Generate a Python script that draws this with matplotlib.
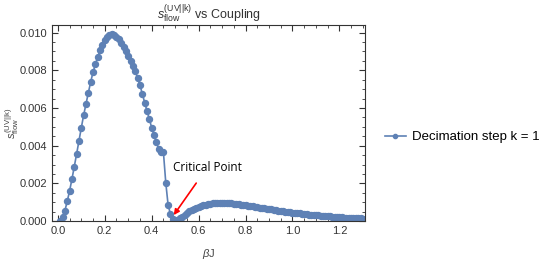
import numpy as np
import matplotlib
matplotlib.use("Agg")
import matplotlib.pyplot as plt
from matplotlib.ticker import MultipleLocator

plt.rcParams['font.family'] = ['Liberation Sans', 'DejaVu Sans']
plt.rcParams['mathtext.fontset'] = 'custom'
plt.rcParams['mathtext.rm'] = 'Liberation Sans'
plt.rcParams['mathtext.it'] = 'Liberation Sans:italic'

# coupling beta*J, step 0.01
beta_j = np.round(np.arange(1, 131) * 0.01, 2)

# s_flow values (first branch up to the critical point)
s_low = [
    0.00000, 0.00020, 0.00055, 0.00105, 0.00160, 0.00222, 0.00288, 0.00356, 0.00427, 0.00495,
    0.00562, 0.00622, 0.00681, 0.00738, 0.00790, 0.00832, 0.00870, 0.00906, 0.00934, 0.00959,
    0.00977, 0.00988, 0.00991, 0.00987, 0.00978, 0.00964, 0.00946, 0.00924, 0.00900, 0.00875,
    0.00849, 0.00824, 0.00794, 0.00759, 0.00720, 0.00676, 0.00629, 0.00585, 0.00543, 0.00496,
    0.00456, 0.00417, 0.00381, 0.00369, 0.00365, 0.00204, 0.00085, 0.00037, 0.00010, 0.00000,
]
# second hump past the critical point
s_high = [
    0.00005, 0.00014, 0.00024, 0.00034, 0.00044, 0.00052, 0.00060, 0.00066, 0.00072, 0.00077,
    0.00081, 0.00085, 0.00088, 0.00091, 0.00093, 0.00095, 0.00096, 0.00097, 0.00098, 0.00098,
    0.00098, 0.00097, 0.00096, 0.00095, 0.00093, 0.00092, 0.00090, 0.00088, 0.00086, 0.00084,
    0.00082, 0.00080, 0.00078, 0.00076, 0.00074, 0.00072, 0.00070, 0.00068, 0.00066, 0.00064,
    0.00062, 0.00060, 0.00058, 0.00056, 0.00054, 0.00052, 0.00050, 0.00049, 0.00047, 0.00045,
    0.00044, 0.00042, 0.00041, 0.00039, 0.00038, 0.00036, 0.00035, 0.00034, 0.00032, 0.00031,
    0.00030, 0.00029, 0.00028, 0.00027, 0.00026, 0.00025, 0.00024, 0.00023, 0.00022, 0.00021,
    0.00020, 0.00019, 0.00018, 0.00018, 0.00017, 0.00016, 0.00015, 0.00015, 0.00014, 0.00013,
]
s_flow = np.array(s_low + s_high)

critical_x, critical_y = 0.494, 0.00032
label_x, label_y = 0.638, 0.00287

blue = '#5e81b5'
gray = '#444444'

fig = plt.figure(figsize=(5.5, 2.69), dpi=100)
ax = fig.add_axes([0.0945, 0.178, 0.5695, 0.729])

ax.plot(beta_j, s_flow, color=blue, lw=1.2, marker='o', ms=4.3, mec=blue,
        clip_on=True, label='Decimation step k = 1')

ax.set_xlim(-0.025, 1.31)
ax.set_ylim(0, 0.0104)
ax.xaxis.set_major_locator(MultipleLocator(0.2))
ax.xaxis.set_minor_locator(MultipleLocator(0.05))
ax.yaxis.set_major_locator(MultipleLocator(0.002))
ax.yaxis.set_minor_locator(MultipleLocator(0.0005))
ax.xaxis.set_major_formatter(plt.FuncFormatter(lambda v, p: '%.1f' % v))
ax.yaxis.set_major_formatter(plt.FuncFormatter(lambda v, p: '%.3f' % v))
ax.tick_params(which='both', direction='in', top=True, right=True, color='#333333',
               labelsize=8, labelcolor='#333333')
ax.tick_params(which='major', length=4, width=0.8)
ax.tick_params(which='minor', length=2, width=0.6)
for sp in ax.spines.values():
    sp.set_color('#333333')
    sp.set_linewidth(0.8)

ax.set_title(r'$s_{\rm flow}^{\rm (UV||k)}$ vs Coupling', fontsize=9, color='#333333', pad=2)
ax.set_xlabel(r'$\it{\beta}$J', fontsize=8, color=gray, labelpad=8)
ax.set_ylabel(r'$s_{\rm flow}^{\rm (UV||k)}$', fontsize=8, color=gray)
ax.yaxis.set_label_coords(-0.1, 0.5)

ax.annotate('Critical Point', xy=(critical_x, critical_y), xytext=(label_x, label_y),
            ha='center', va='center', fontsize=8.5, family=['Open Sans', 'DejaVu Sans'],
            arrowprops=dict(arrowstyle='-|>', color='red', lw=1.2, mutation_scale=8,
                            shrinkA=6, shrinkB=0))

fig.legend(loc='center left', bbox_to_anchor=(0.69, 0.49), frameon=False,
           fontsize=9.5, handlelength=1.6, handletextpad=0.5, borderaxespad=0.0,
           markerscale=0.7)

fig.savefig('out.png', dpi=100)
